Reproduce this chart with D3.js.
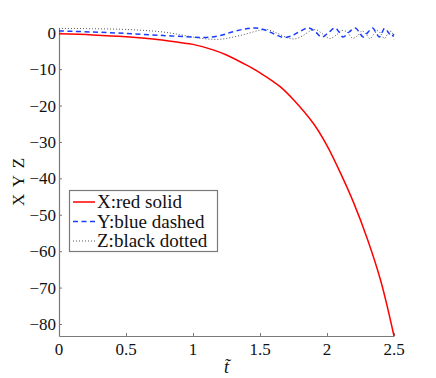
<!DOCTYPE html>
<html>
<head>
<meta charset="utf-8">
<script src="https://cdn.jsdelivr.net/npm/d3@7"></script>
<style>body {margin:0; background:#fff;}</style>
</head>
<body>
<script>

//X : red solid
var xT = [0, 0.25, 0.5, 0.75, 0.9, 1.0, 1.15, 1.25, 1.4, 1.5, 1.65, 1.75, 1.9, 2.0, 2.1, 2.2, 2.3, 2.4, 2.5];
var xVals = [-0.3, -0.6, -1.1, -1.9, -2.7, -3.2, -4.7, -6.1, -8.9, -11.0, -14.8, -18.4, -25.0, -31.0, -38.5, -46.8, -56.5, -68.0, -83.3];

//Y : blue dashed
var yT = [0, 0.25, 0.5, 0.75, 1.0, 1.1, 1.2, 1.3, 1.4, 1.47, 1.55, 1.62, 1.68, 1.74, 1.8, 1.86, 1.91, 1.96, 2.01, 2.06, 2.09, 2.12, 2.165, 2.21, 2.24, 2.27, 2.305, 2.34, 2.365, 2.39, 2.41, 2.43, 2.46, 2.48, 2.5];
var yVals = [0.5, 0.2, -0.2, -0.7, -1.2, -1.3, -0.8, 0.3, 1.1, 1.3, 0.6, -0.6, -1.3, -0.8, 0.4, 1.3, 0.4, -1.2, 0, 1.3, 0.2, -1.2, 0.2, 1.3, 0.2, -1.2, 0.1, 1.3, 0.1, -1.2, 0, 1.2, 0, -1.0, -0.4];

//Z : black dotted
var zT = [0, 0.25, 0.5, 0.75, 0.9, 1.0, 1.1, 1.2, 1.3, 1.4, 1.5, 1.55, 1.62, 1.7, 1.76, 1.82, 1.88, 1.92, 1.97, 2.02, 2.07, 2.11, 2.15, 2.19, 2.23, 2.26, 2.29, 2.32, 2.35, 2.38, 2.4, 2.43, 2.46, 2.48, 2.5];
var zVals = [1.2, 1.1, 0.9, 0.3, -0.5, -1.2, -1.7, -1.8, -1.2, -0.3, 0.7, 0.9, 0.0, -1.3, -1.7, -0.8, 0.6, 0.8, -0.4, -1.6, -0.6, 0.6, 0.2, -1.5, -0.8, 0.5, -0.3, -1.6, -0.4, 0.6, -0.2, -1.6, 0.2, 0.4, -1.8];

var xTicks = [0, 0.5, 1, 1.5, 2, 2.5],
	yTicks = [0, -10, -20, -30, -40, -50, -60, -70, -80];

var legendNames = ["X:red solid", "Y:blue dashed", "Z:black dotted"];

var serif = '"Liberation Serif", monospace';

//////////////
// setup
//////////////
var width = 436, height = 378,
	margin = {top: 28, right: 42, bottom: 42, left: 59},
	axisColor = "#7a7a7a",
	tickLen = 3;

var xScale = d3.scaleLinear().domain([0, 2.5]).range([margin.left, width - margin.right]),
	yScale = d3.scaleLinear().domain([-83.3, 1.3]).range([height - margin.bottom, margin.top]);

var svg = d3.select("body").append("svg")
	.attr("width", width)
	.attr("height", height);

//axes, ticks pointing inward, labels added below
var gX = svg.append("g")
	.attr("transform", "translate(0," + (height - margin.bottom) + ")")
	.call(d3.axisBottom(xScale).tickValues(xTicks).tickSizeInner(-tickLen).tickSizeOuter(0).tickFormat(function(d){ return ""; }));
var gY = svg.append("g")
	.attr("transform", "translate(" + margin.left + ",0)")
	.call(d3.axisLeft(yScale).tickValues(yTicks).tickSizeInner(-tickLen).tickSizeOuter(0).tickFormat(function(d){ return ""; }));

[gX, gY].forEach(function(g){
	g.select(".domain").attr("stroke", axisColor).attr("stroke-width", 1.2);
	g.selectAll(".tick line").attr("stroke", axisColor).attr("stroke-width", 1);
});

//tick labels
svg.append("g").selectAll("text")
	.data(xTicks).enter()
		.append("text")
		.attr("x", function(d){ return xScale(d); })
		.attr("y", 355)
		.style("font-family", serif)
		.style("font-size", "17px")
		.style("text-anchor", "middle")
		.attr("fill", "#111")
		.text(function(d){ return String(d); });
svg.append("g").selectAll("text")
	.data(yTicks).enter()
		.append("text")
		.attr("x", 56)
		.attr("y", function(d){ return yScale(d) + 6; })
		.style("font-family", serif)
		.style("font-size", "17px")
		.style("text-anchor", "end")
		.attr("fill", "#111")
		.text(function(d){ return d < 0 ? "\u2212" + (-d) : String(d); });

//axis labels
svg.append("text")
	.attr("transform", "translate(24," + ((margin.top + height - margin.bottom) / 2) + ") rotate(-90)")
	.style("text-anchor", "middle")
	.style("font-family", serif)
	.style("font-size", "17px")
	.style("word-spacing", "3px")
	.attr("fill", "#111")
	.text("X Y Z");
svg.append("text")
	.attr("x", (xScale(0) + xScale(2.5)) / 2)
	.attr("y", 373)
	.style("text-anchor", "middle")
	.style("font-family", serif)
	.style("font-size", "18px")
	.style("font-style", "italic")
	.attr("fill", "#111")
	.text("t\u0303");

//////////////
// lines
//////////////
function pairs(ts, vs){
	return ts.map(function(t, i){ return {x: t, y: vs[i]}; });
}

var line = d3.line()
	.x(function(d){ return xScale(d.x); })
	.y(function(d){ return yScale(d.y); })
	.curve(d3.curveCatmullRom.alpha(0.5));

var series = [
	{name: legendNames[0], data: pairs(xT, xVals), color: "#ff0000", width: 1.5, dash: null},
	{name: legendNames[1], data: pairs(yT, yVals), color: "#1a3cff", width: 1.5, dash: "5,3.5"},
	{name: legendNames[2], data: pairs(zT, zVals), color: "#555555", width: 1, dash: "1,2"}
];

//draw Z first so blue and red sit on top
[series[2], series[1], series[0]].forEach(function(s){
	svg.append("path")
		.datum(s.data)
		.attr("fill", "none")
		.attr("stroke", s.color)
		.attr("stroke-width", s.width)
		.attr("stroke-dasharray", s.dash)
		.attr("d", line);
});

//////////////
// legend
//////////////
var legend = svg.append("g");
legend.append("rect")
	.attr("x", 69.5)
	.attr("y", 190.5)
	.attr("width", 148)
	.attr("height", 61)
	.attr("fill", "#fff")
	.attr("stroke", axisColor)
	.attr("stroke-width", 1.2);

series.forEach(function(s, i){
	var yy = 202 + i * 19.5;
	legend.append("line")
		.attr("x1", 73).attr("x2", 95)
		.attr("y1", yy).attr("y2", yy)
		.attr("stroke", s.color)
		.attr("stroke-width", s.width)
		.attr("stroke-dasharray", s.dash);
	legend.append("text")
		.attr("x", 97)
		.attr("y", yy + 6)
		.style("font-family", serif)
		.style("font-size", "19px")
		.attr("fill", "#111")
		.text(s.name);
});

</script>
</body>
</html>
